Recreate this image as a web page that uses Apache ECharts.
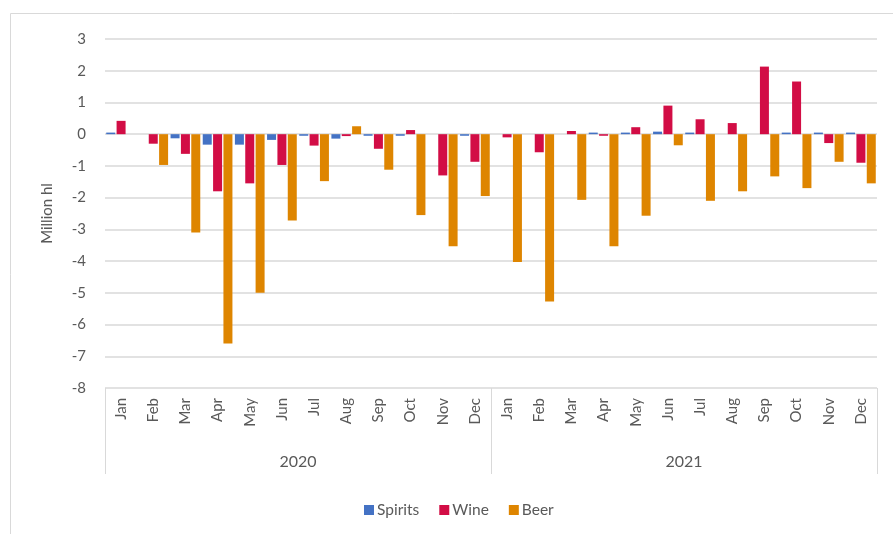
<!DOCTYPE html>
<html><head><meta charset="utf-8">
<script src="https://cdn.jsdelivr.net/npm/echarts@6/dist/echarts.min.js"></script>
<style>html,body{margin:0;padding:0;background:#fff}#c{width:893px;height:534px}</style>
</head><body><div id="c"></div>
<script>
var months = ['Jan','Feb','Mar','Apr','May','Jun','Jul','Aug','Sep','Oct','Nov','Dec',
              'Jan','Feb','Mar','Apr','May','Jun','Jul','Aug','Sep','Oct','Nov','Dec'];
var years = ['2020','2021'];
var spirits = [0.05,0,-0.13,-0.33,-0.33,-0.18,-0.05,-0.14,-0.05,-0.05,0,-0.05,
               0,0,0,0.05,0.05,0.08,0.05,0,0,0.05,0.05,0.05];
var wine = [0.42,-0.3,-0.62,-1.8,-1.55,-0.97,-0.36,-0.06,-0.46,0.13,-1.3,-0.87,
            -0.1,-0.57,0.1,-0.05,0.22,0.9,0.47,0.35,2.13,1.66,-0.28,-0.9];
var beer = [0,-0.97,-3.1,-6.6,-5.0,-2.72,-1.48,0.25,-1.12,-2.55,-3.53,-1.95,
            -4.03,-5.27,-2.07,-3.53,-2.57,-0.35,-2.1,-1.8,-1.33,-1.7,-0.87,-1.55];
var yTicks = {min:-8, max:3, interval:1};

var FONT = 'Lato';
var TXT = '#595959';
var chart = echarts.init(document.getElementById('c'), null, {renderer:'canvas'});
chart.setOption({
  animation:false,
  textStyle:{fontFamily:FONT},
  graphic:[{type:'rect', shape:{x:10.5,y:13.5,width:895,height:530}, style:{fill:'none',stroke:'#d9d9d9',lineWidth:1}, silent:true}],
  grid:{left:105,right:16,top:39,bottom:146},
  legend:{data:['Spirits','Wine','Beer'], left:359, top:497, itemWidth:10, itemHeight:10, itemGap:20,
    icon:'rect', textStyle:{fontFamily:FONT,fontSize:15.5,color:TXT,padding:[0,0,0,-2]}},
  xAxis:[{
    type:'category', data:months, position:'bottom',
    axisLine:{show:false,onZero:false}, axisTick:{show:false},
    axisLabel:{rotate:90, fontSize:15, color:TXT, margin:10, interval:0, fontFamily:FONT}
  },{
    type:'category', data:years, position:'bottom', offset:0,
    axisLine:{show:false,onZero:false},
    axisTick:{show:true, length:86, interval:0, lineStyle:{color:'#d9d9d9',width:1}},
    axisLabel:{fontSize:16, color:TXT, margin:66, fontFamily:FONT}
  }],
  yAxis:{
    type:'value', min:yTicks.min, max:yTicks.max, interval:yTicks.interval,
    name:'Million hl', nameLocation:'middle', nameGap:50, nameRotate:90,
    nameTextStyle:{fontSize:15,color:TXT,fontFamily:FONT},
    axisLine:{show:false}, axisTick:{show:false},
    axisLabel:{fontSize:15,color:TXT,margin:19,fontFamily:FONT},
    splitLine:{lineStyle:{color:'#d9d9d9',width:1.5}}
  },
  series:[
    {name:'Spirits', type:'bar', data:spirits, barWidth:9, barGap:'15%', itemStyle:{color:'#4472C4'}},
    {name:'Wine', type:'bar', data:wine, barWidth:9, barGap:'15%', itemStyle:{color:'#D20D45'}},
    {name:'Beer', type:'bar', data:beer, barWidth:9, barGap:'15%', itemStyle:{color:'#DE8500'}}
  ]
});
</script></body></html>
